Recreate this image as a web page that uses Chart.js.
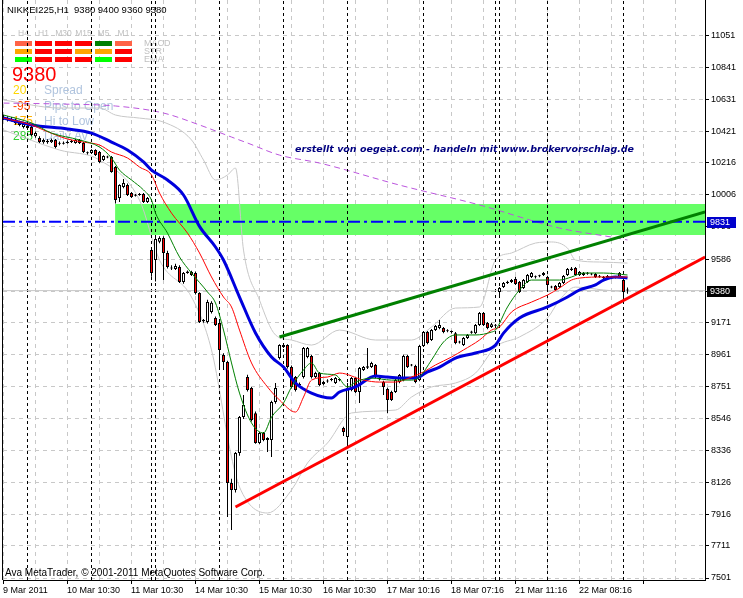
<!DOCTYPE html>
<html>
<head>
<meta charset="utf-8">
<title>NIKKEI225,H1</title>
<script src="https://cdn.jsdelivr.net/npm/chart.js@4.4.1/dist/chart.umd.min.js"></script>
<style>
  html, body { margin: 0; padding: 0; background: #fff; }
  canvas { display: block; }
</style>
</head>
<body>
<canvas id="grafico" width="743" height="598"></canvas>
<script>
// Velas H1 do NIKKEI225 - barra 0 = 9 Mar 2011
const abertura = [
  10515,10508,10495,10495,10482,10450,10456,10450,10390,10378,
  10350,10360,10350,10365,10345,10340,10345,10352,10345,10365,
  10345,10283,10280,10299,10286,10234,10255,10253,10188,9985,
  10057,10070,10018,10000,10005,10011,9959,9645,9580,9700,
  9724,9626,9530,9521,9534,9436,9495,9502,9495,9364,
  9188,9175,9240,9201,9168,8959,8913,8122,8076,8318,
  8553,8815,8743,8579,8384,8449,8416,8403,8652,8939,
  9011,9024,8880,8815,8760,8815,8946,8952,8815,8841,
  8782,8785,8795,8776,8800,8481,8423,8730,8808,8717,
  8861,8875,8880,8894,8810,8782,8737,8717,8717,8782,
  8795,8952,8890,8887,8795,9018,9109,9057,9122,9135,
  9135,9115,9110,9102,9045,9024,9070,9105,9102,9155,
  9233,9168,9142,9150,9371,9403,9430,9436,9456,9436,
  9397,9436,9469,9470,9474,9482,9469,9405,9410,9403,
  9430,9482,9515,9528,9482,9495,9490,9489,9489,9470,
  9469,9462,9465,9465,9495,9449,9380
];
const maxima = [
  10530,10520,10515,10505,10490,10480,10465,10460,10420,10390,
  10375,10370,10375,10372,10355,10355,10362,10365,10372,10372,
  10352,10290,10305,10305,10292,10265,10262,10260,10195,10075,
  10110,10080,10025,10012,10018,10018,9992,9660,9735,9735,
  9735,9640,9545,9555,9545,9502,9512,9510,9505,9370,
  9195,9320,9310,9210,9175,8970,8920,8150,8325,8560,
  8697,8830,8750,8590,8455,8455,8422,8660,8776,9030,
  9035,9030,8890,8822,8780,9012,9012,8960,8850,8848,
  8790,8800,8808,8815,8808,8490,8776,8815,8815,8880,
  8887,9005,8915,8900,8815,8790,8745,8725,8802,8835,
  8960,8960,8900,8895,9025,9116,9116,9129,9155,9188,
  9142,9128,9120,9109,9052,9077,9096,9118,9162,9240,
  9240,9175,9168,9162,9404,9437,9445,9456,9470,9443,
  9456,9489,9502,9478,9484,9502,9476,9412,9417,9437,
  9482,9528,9535,9535,9508,9502,9502,9495,9495,9482,
  9476,9482,9471,9476,9502,9456,9400
];
const minima = [
  10495,10485,10485,10465,10455,10440,10435,10390,10380,10345,
  10340,10340,10345,10310,10330,10335,10340,10345,10340,10338,
  10280,10270,10275,10260,10215,10228,10245,10150,9950,9960,
  10050,9998,9985,9995,10000,9952,9952,9470,9440,9690,
  9450,9525,9515,9515,9430,9425,9490,9475,9355,9168,
  9170,9165,9230,9148,8861,8861,7900,7815,8060,8300,
  8540,8720,8525,8378,8375,8395,8325,8292,8640,8930,
  9005,8870,8740,8720,8750,8805,8938,8805,8808,8755,
  8762,8778,8788,8770,8788,8430,8357,8722,8710,8645,
  8855,8868,8874,8808,8792,8697,8579,8658,8710,8775,
  8788,8874,8885,8775,8788,9011,9030,9050,9116,9128,
  9102,9108,9100,9030,9035,9018,9063,9098,9095,9148,
  9148,9128,9135,9143,9340,9397,9424,9430,9417,9365,
  9390,9430,9462,9460,9468,9476,9371,9395,9377,9397,
  9423,9476,9508,9476,9476,9476,9484,9480,9462,9464,
  9456,9456,9454,9460,9462,9318,9360
];
const fechamento = [
  10508,10495,10500,10475,10463,10469,10443,10397,10410,10351,
  10365,10350,10365,10319,10340,10345,10352,10358,10365,10345,
  10286,10278,10299,10266,10221,10260,10250,10155,9972,10070,
  10083,10005,9992,10005,10012,9959,9985,9495,9717,9724,
  9626,9534,9525,9541,9436,9495,9505,9482,9364,9175,
  9180,9305,9300,9155,8992,8913,8122,8076,8318,8553,
  8632,8730,8534,8384,8449,8403,8403,8652,8743,9024,
  9024,8880,8750,8730,8770,9005,9005,8815,8841,8763,
  8770,8792,8800,8808,8795,8455,8743,8808,8717,8874,
  8880,8885,8907,8815,8800,8750,8665,8665,8795,8828,
  8952,8880,8895,8782,9018,9109,9037,9122,9149,9155,
  9109,9120,9112,9037,9040,9070,9090,9112,9155,9233,
  9155,9135,9160,9155,9397,9430,9438,9449,9423,9371,
  9449,9482,9495,9468,9478,9495,9417,9400,9384,9430,
  9476,9521,9525,9482,9502,9482,9495,9485,9469,9476,
  9462,9476,9460,9469,9469,9371,9380
];

// eixo do tempo (um rótulo a cada 16 barras) e eixo de preço
const timeLabels = ['9 Mar 2011', '10 Mar 10:30', '11 Mar 10:30', '14 Mar 10:30', '15 Mar 10:30',
  '16 Mar 10:30', '17 Mar 10:16', '18 Mar 07:16', '21 Mar 11:16', '22 Mar 08:16'];
const yTicks = [11051, 10841, 10631, 10421, 10216, 10006, 9796, 9586, 9376, 9171,
  8961, 8751, 8546, 8336, 8126, 7916, 7711, 7501];

// separadores de período (barras)
const separatorBars = [6, 22, 37, 38, 54, 70, 86, 105, 123, 124, 136, 155];

// médias móveis (barra, preço)
const blueMaBars = [0, 7, 16, 22, 27, 31, 35, 37, 41, 45, 49, 53, 55, 59, 63, 67, 70, 73, 77, 82, 84, 88, 93, 96, 100, 103, 106, 109, 113, 118, 123, 125, 129, 136, 141, 144, 148, 150, 153, 156];
const blueMaValues = [10508, 10463, 10437, 10410, 10351, 10299, 10221, 10168, 10103, 10005, 9800, 9665, 9580, 9338, 9103, 8946, 8880, 8776, 8710, 8678, 8717, 8750, 8821, 8815, 8808, 8808, 8848, 8880, 8939, 8972, 9024, 9102, 9201, 9273, 9338, 9384, 9417, 9449, 9469, 9462];
const redMaBars = [0, 7, 10, 16, 20, 24, 27, 31, 34, 37, 39, 42, 46, 49, 52, 55, 57, 59, 62, 66, 69, 73, 75, 77, 81, 84, 90, 94, 98, 102, 105, 108, 112, 115, 119, 122, 124, 127, 132, 136, 139, 142, 144, 150, 156];
const redMaValues = [10508, 10463, 10430, 10371, 10351, 10332, 10286, 10247, 10188, 10136, 10018, 9887, 9756, 9626, 9469, 9338, 9273, 9122, 8907, 8750, 8665, 8586, 8684, 8795, 8815, 8841, 8795, 8782, 8782, 8815, 8848, 8894, 8946, 8992, 9057, 9122, 9142, 9240, 9305, 9351, 9397, 9449, 9462, 9469, 9469];
const greenMaBars = [0, 7, 12, 19, 24, 27, 29, 32, 35, 37, 38, 41, 44, 47, 51, 53, 55, 57, 59, 62, 65, 67, 70, 72, 75, 77, 79, 83, 86, 88, 92, 97, 102, 104, 107, 110, 113, 118, 122, 123, 126, 129, 132, 139, 142, 145, 150, 156];
const greenMaValues = [10528, 10476, 10410, 10365, 10319, 10247, 10168, 10103, 10038, 9972, 9887, 9756, 9600, 9495, 9371, 9299, 9122, 8907, 8710, 8515, 8449, 8553, 8645, 8750, 8861, 8907, 8841, 8828, 8750, 8782, 8808, 8795, 8795, 8815, 8926, 9044, 9090, 9090, 9109, 9122, 9273, 9384, 9449, 9449, 9469, 9495, 9495, 9482];
const purpleMaBars = [0, 14, 28, 40, 49, 57, 61, 69, 79, 99, 119, 139, 152, 156];
const purpleMaValues = [10606, 10600, 10587, 10541, 10463, 10384, 10345, 10266, 10214, 10070, 9940, 9789, 9730, 9711];

// bandas de Bollinger (cinza)
const bbUpperBars = [0, 14, 24, 28, 34, 40, 47, 50, 53, 56, 58, 60, 64, 68, 72, 77, 84, 93, 102, 107, 113, 119, 123, 127, 133, 137, 141, 143, 149, 156];
const bbUpperValues = [10626, 10574, 10574, 10528, 10508, 10482, 10365, 10234, 10103, 10136, 10181, 9645, 9318, 9090, 9057, 9024, 9122, 9057, 9057, 9142, 9266, 9273, 9580, 9626, 9691, 9698, 9658, 9580, 9567, 9560];
const bbLowerBars = [0, 14, 24, 34, 39, 47, 52, 57, 59, 66, 72, 76, 81, 87, 98, 102, 107, 113, 118, 123, 129, 136, 139, 143, 150, 156];
const bbLowerValues = [10430, 10299, 10234, 9972, 9580, 9338, 8992, 8292, 8096, 7926, 8076, 8253, 8384, 8580, 8599, 8684, 8750, 8776, 8841, 9011, 9077, 9201, 9318, 9403, 9384, 9371];

// linhas de tendência, zona verde e níveis
const greenTrendBars = [69, 175.4];
const greenTrendValues = [9077, 9894];
const redTrendBars = [58, 175.4];
const redTrendValues = [7965, 9600];
const zoneBars = [27.9, 175.4];
const zoneTop = 9946;
const zoneBottom = 9744;
const levelPrice = 9831;
const bidPrice = 9380;

// painel de sinais no canto
const timeframes = ['H4', 'H1', 'M30', 'M15', 'M5', 'M1'];
const signalNames = ['MACD', 'STR', 'EMA'];
const signalColors = [
  ['#ff6347', '#ff0000', '#ff0000', '#ff0000', '#008000', '#ff6347'],
  ['#ffa500', '#ff0000', '#ff0000', '#ffa500', '#ffa500', '#ff0000'],
  ['#00ff00', '#ff0000', '#ff0000', '#ff0000', '#00ff00', '#ff0000']
];
const infoValues = ['20', '-95', '175', '285'];
const infoLabels = ['Spread', 'Pips to Open', 'Hi to Low', 'Daily Av'];
const infoColors = ['#ffd700', '#ff4500', '#ffb000', '#32cd32'];

const fonte = "'Liberation Sans', Arial, sans-serif";
const xMin = -0.125, xMax = 175.375;
const yMin = 7488, yMax = 11280;
const ultima = abertura.length - 1;

const pares = (xs, ys) => xs.map((x, k) => ({ x: x, y: ys[k] }));

const corpos = abertura.map((o, i) => ({ x: i, y: [o, fechamento[i]] }));
const pavios = minima.map((l, i) => ({ x: i, y: [l, maxima[i]] }));
const coresCorpo = abertura.map((o, i) => fechamento[i] < o ? '#ff0000' : '#ffffff');

let separadores = [];
separatorBars.forEach(b => {
  separadores.push({ x: b, y: yMin }, { x: b, y: yMax }, { x: b, y: null });
});

function linha(dados, cor, largura, ordem, extra) {
  return Object.assign({
    type: 'line', data: dados, borderColor: cor, borderWidth: largura,
    pointRadius: 0, fill: false, order: ordem, tension: 0
  }, extra || {});
}

const datasets = [
  linha(pares(zoneBars, [zoneTop, zoneTop]), 'rgba(0,0,0,0)', 0, 30,
    { fill: { value: zoneBottom }, backgroundColor: '#66ff66' }),
  linha(pares(bbUpperBars, bbUpperValues), '#c8c8c8', 1, 29, { cubicInterpolationMode: 'monotone' }),
  linha(pares(bbLowerBars, bbLowerValues), '#c8c8c8', 1, 29, { cubicInterpolationMode: 'monotone' }),
  linha(pares(purpleMaBars, purpleMaValues), '#bb55dd', 1, 28, { borderDash: [6, 4], cubicInterpolationMode: 'monotone' }),
  linha(separadores, '#000000', 1, 27, { borderDash: [3, 3], spanGaps: false }),
  linha(pares([xMin, xMax], [bidPrice, bidPrice]), '#c8c8c8', 1, 26),
  linha(pares([xMin, xMax], [levelPrice, levelPrice]), '#0000ff', 2, 25, { borderDash: [12, 4, 3, 4] }),
  {
    type: 'bar', data: pavios, backgroundColor: '#000000', borderWidth: 0,
    grouped: false, categoryPercentage: 1, barPercentage: 0.25, maxBarThickness: 1,
    inflateAmount: 0, order: 20
  },
  {
    type: 'bar', data: corpos, backgroundColor: coresCorpo, borderColor: '#000000', borderWidth: 1,
    borderSkipped: false, grouped: false, categoryPercentage: 1, barPercentage: 0.75, maxBarThickness: 3,
    minBarLength: 1, inflateAmount: 0, order: 19
  },
  linha(pares(blueMaBars, blueMaValues), '#0000dd', 3, 15, { cubicInterpolationMode: 'monotone' }),
  linha(pares(redMaBars, redMaValues), '#ff0000', 1, 14, { cubicInterpolationMode: 'monotone' }),
  linha(pares(greenMaBars, greenMaValues), '#008000', 1, 13, { cubicInterpolationMode: 'monotone' }),
  linha(pares(greenTrendBars, greenTrendValues), '#008000', 3, 10),
  linha(pares(redTrendBars, redTrendValues), '#ff0000', 3, 10)
];

function desenharPainel(ctx) {
  ctx.save();
  ctx.textBaseline = 'middle';
  ctx.font = '8.5px ' + fonte;
  ctx.fillStyle = '#c0c0c0';
  ctx.textAlign = 'center';
  timeframes.forEach((tf, c) => ctx.fillText(tf, 23.5 + 20 * c, 33.5));
  signalColors.forEach((linhaCores, r) => {
    linhaCores.forEach((cor, c) => {
      ctx.fillStyle = cor;
      ctx.fillRect(15 + 20 * c, 41 + 8 * r, 17, 5);
    });
  });
  ctx.textAlign = 'left';
  ctx.fillStyle = '#c0c0c0';
  ctx.font = '9px ' + fonte;
  signalNames.forEach((n, r) => ctx.fillText(n, 144, 43.5 + 8 * r));
  ctx.font = '20px ' + fonte;
  ctx.fillStyle = '#ff0000';
  ctx.fillText(String(fechamento[ultima]), 12, 75);
  ctx.font = '12px ' + fonte;
  infoValues.forEach((v, k) => {
    const y = 91 + 15.3 * k;
    ctx.fillStyle = infoColors[k];
    ctx.fillText(v, 13, y);
    ctx.fillStyle = '#b0c4de';
    ctx.fillText(infoLabels[k], 44, y);
  });
  ctx.restore();
}

function caixaPreco(ctx, scaleY, area, preco, cor) {
  const y = Math.round(scaleY.getPixelForValue(preco));
  ctx.fillStyle = cor;
  ctx.fillRect(area.right + 2, y - 5, 29, 11);
  ctx.fillStyle = '#ffffff';
  ctx.font = '9px ' + fonte;
  ctx.textAlign = 'left';
  ctx.textBaseline = 'middle';
  ctx.fillText(String(preco), area.right + 5, y + 0.5);
}

const textos = {
  id: 'textos',
  beforeDatasetsDraw(chart) {
    desenharPainel(chart.ctx);
  },
  afterDraw(chart) {
    const ctx = chart.ctx;
    const area = chart.chartArea;
    ctx.save();
    // borda esquerda
    ctx.strokeStyle = '#000000';
    ctx.lineWidth = 1;
    ctx.beginPath();
    ctx.moveTo(area.left - 0.5, 0);
    ctx.lineTo(area.left - 0.5, area.bottom);
    ctx.stroke();

    ctx.textBaseline = 'middle';
    ctx.textAlign = 'left';
    ctx.fillStyle = '#000000';
    ctx.font = '9.5px ' + fonte;
    ctx.fillText('NIKKEI225,H1  ' + [abertura[ultima], maxima[ultima], minima[ultima], fechamento[ultima]].join(' '), 7, 10);
    ctx.font = '10px ' + fonte;
    ctx.fillText('Ava MetaTrader, \u00a9 2001-2011 MetaQuotes Software Corp.', 5, 573);

    ctx.fillStyle = '#000080';
    ctx.font = "italic bold 9.5px 'DejaVu Sans', sans-serif";
    ctx.fillText('erstellt von oegeat.com - handeln mit www.brokervorschlag.de', 295, 150);

    caixaPreco(ctx, chart.scales.y, area, levelPrice, '#0000cc');
    caixaPreco(ctx, chart.scales.y, area, bidPrice, '#000000');
    ctx.restore();
  }
};

const grafico = new Chart(document.getElementById('grafico'), {
  type: 'bar',
  data: { datasets: datasets },
  options: {
    responsive: false,
    animation: false,
    devicePixelRatio: 1,
    events: [],
    layout: { padding: { left: 3, top: 0, right: 0, bottom: 0 } },
    plugins: { legend: { display: false }, tooltip: { enabled: false } },
    scales: {
      x: {
        type: 'linear', min: xMin, max: xMax, offset: false,
        afterBuildTicks: (scale) => {
          const t = [];
          for (let k = 0; 8 * k + xMin <= xMax; k++) t.push({ value: 8 * k + xMin });
          scale.ticks = t;
        },
        afterFit: (scale) => { scale.height = 18; scale.paddingLeft = 0; scale.paddingRight = 0; },
        grid: {
          offset: false, color: '#c8c8c8', lineWidth: 1, tickLength: 4,
          tickColor: (c) => (c.index % 2 === 0 ? '#000000' : 'rgba(0,0,0,0)')
        },
        border: { color: '#000000', width: 1, dash: [4, 4] },
        ticks: {
          autoSkip: false, maxRotation: 0, align: 'start', padding: 1, color: '#000000',
          font: { family: fonte, size: 9 },
          callback: (v, i) => (i % 2 === 0 ? (timeLabels[i / 2] || '') : '')
        }
      },
      y: {
        type: 'linear', position: 'right', min: yMin, max: yMax, beginAtZero: false,
        afterBuildTicks: (scale) => { scale.ticks = yTicks.map(v => ({ value: v })); },
        afterFit: (scale) => { scale.width = 38; scale.paddingTop = 0; scale.paddingBottom = 0; },
        grid: { color: '#c8c8c8', lineWidth: 1, tickLength: 4, tickColor: '#000000' },
        border: { color: '#000000', width: 1, dash: [4, 4] },
        ticks: {
          padding: 2, color: '#000000',
          font: { family: fonte, size: 9 },
          callback: (v) => String(v)
        }
      }
    }
  },
  plugins: [textos]
});
</script>
</body>
</html>
